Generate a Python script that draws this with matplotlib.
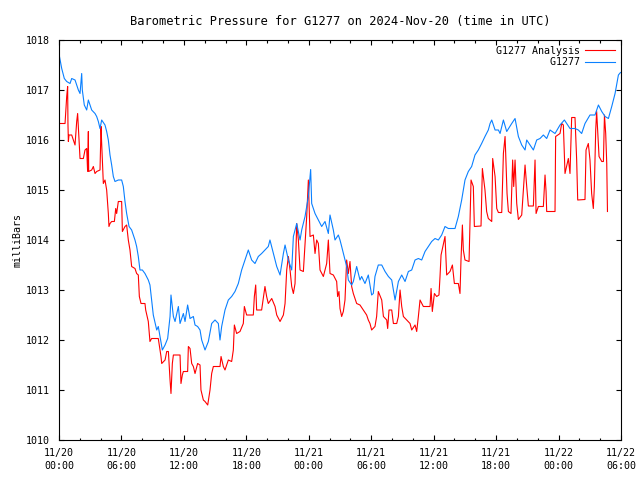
import matplotlib
matplotlib.use("Agg")
import matplotlib.pyplot as plt
from matplotlib.ticker import MultipleLocator

# hours since 2024-11-20 00:00 UTC
obs_hours = [0.00, 0.26, 0.51, 0.74, 1.06, 1.22, 1.54, 1.86, 2.02, 2.18, 2.24, 2.43, 2.66, 2.82,
             2.98, 3.14, 3.46, 3.62, 3.78, 3.94, 4.10, 4.42, 4.58, 4.74, 4.90, 5.06, 5.22, 5.38,
             5.70, 6.02, 6.18, 6.34, 6.50, 6.73, 6.98, 7.30, 7.46, 7.62, 7.78, 8.01, 8.26, 8.58,
             8.74, 8.90, 9.06, 9.39, 9.54, 9.71, 9.93, 10.19, 10.44, 10.67, 10.76, 10.99, 11.15,
             11.47, 11.63, 11.95, 12.11, 12.36, 12.59, 12.91, 13.07, 13.32, 13.55,
             13.71, 14.03, 14.35, 14.67, 14.99, 15.31, 15.47, 15.63, 15.95, 16.27, 16.59, 16.91,
             17.23, 17.55, 17.87, 18.19, 18.51, 18.83, 19.15, 19.47, 19.79, 20.11, 20.27, 20.60,
             20.92, 21.24, 21.56, 21.72, 22.04, 22.36, 22.52, 22.84, 23.16, 23.32, 23.64, 23.96,
             24.18, 24.28, 24.60, 24.92, 25.24, 25.56, 25.88, 26.04, 26.36, 26.52, 26.84,
             27.00, 27.16, 27.48, 27.64, 27.80, 28.12, 28.28, 28.60, 28.92, 29.08, 29.40, 29.72,
             30.04, 30.20, 30.36, 30.68, 31.01, 31.33, 31.65, 31.97, 32.29, 32.61, 32.93, 33.25,
             33.57, 33.89, 34.21, 34.53, 34.85, 35.17, 35.49, 35.81, 36.13, 36.45, 36.77, 37.09,
             37.41, 38.05, 38.37, 38.69, 39.01, 39.33, 39.65, 39.97,
             40.29, 40.61, 40.93, 41.25, 41.42, 41.58, 41.90, 42.22, 42.38, 42.70, 43.02, 43.50,
             43.82, 44.14, 44.46, 44.78, 44.94, 45.26, 45.58, 45.90, 46.22, 46.54, 46.86, 47.18,
             47.66, 48.14, 48.56, 48.78, 49.10, 49.58, 49.90, 50.22, 50.54, 51.02, 51.50, 51.83,
             52.15, 52.47, 52.79, 53.11, 53.43, 53.75, 53.95]
obs_mbar = [1017.72, 1017.43, 1017.23, 1017.17, 1017.13, 1017.23, 1017.20, 1017.00, 1016.93,
            1017.33, 1017.00, 1016.70, 1016.60, 1016.80, 1016.70, 1016.60, 1016.53, 1016.47,
            1016.37, 1016.23, 1016.40, 1016.30, 1016.17, 1016.00, 1015.70, 1015.50, 1015.27,
            1015.17, 1015.20, 1015.20, 1015.07, 1014.77, 1014.53, 1014.27, 1014.20, 1014.00,
            1013.87, 1013.67, 1013.40, 1013.40, 1013.33, 1013.20, 1013.10, 1012.80, 1012.50,
            1012.20, 1012.27, 1012.07, 1011.80, 1011.90, 1012.03, 1012.47, 1012.90, 1012.47,
            1012.37, 1012.67, 1012.33, 1012.53, 1012.37, 1012.70, 1012.43, 1012.47, 1012.30,
            1012.27, 1012.20,
            1012.00, 1011.80, 1011.97, 1012.33, 1012.40, 1012.33, 1012.00, 1012.27, 1012.60,
            1012.80, 1012.87, 1012.97, 1013.13, 1013.40, 1013.60, 1013.80, 1013.60, 1013.53,
            1013.67, 1013.73, 1013.80, 1013.87, 1014.00, 1013.73, 1013.47, 1013.30, 1013.73,
            1013.90, 1013.60, 1013.40, 1014.07, 1014.33, 1014.00, 1014.20, 1014.47, 1014.87,
            1015.41, 1014.73, 1014.53, 1014.40, 1014.27, 1014.37, 1014.13, 1014.50, 1014.20,
            1014.00, 1014.10,
            1014.00, 1013.87, 1013.60, 1013.47, 1013.20, 1013.10, 1013.17, 1013.47, 1013.20,
            1013.27, 1013.13, 1013.30, 1012.90, 1012.93, 1013.27, 1013.50, 1013.50, 1013.37,
            1013.27, 1013.20, 1012.80, 1013.17, 1013.30, 1013.17, 1013.37, 1013.40, 1013.60,
            1013.63, 1013.60, 1013.77, 1013.87, 1013.97, 1014.03, 1014.00, 1014.10, 1014.27,
            1014.23, 1014.23, 1014.47, 1014.80, 1015.20, 1015.37, 1015.47, 1015.70,
            1015.80, 1015.93, 1016.07, 1016.20, 1016.33, 1016.40, 1016.20, 1016.20, 1016.13,
            1016.40, 1016.17, 1016.33, 1016.43, 1016.07, 1015.90, 1015.80, 1016.00, 1015.90,
            1015.80, 1016.00, 1016.03, 1016.10, 1016.03, 1016.20, 1016.13, 1016.30, 1016.40,
            1016.33, 1016.23, 1016.23, 1016.20, 1016.13, 1016.33, 1016.50, 1016.50, 1016.70,
            1016.57, 1016.47, 1016.43, 1016.67, 1016.93, 1017.30, 1017.35]

ana_hours = [0.00, 0.58, 0.74, 0.83, 0.86, 0.90, 0.96, 1.22, 1.38, 1.54, 1.70, 1.79, 1.92, 2.02,
             2.34, 2.50, 2.66, 2.75, 2.82, 2.85, 3.14, 3.30, 3.46, 3.62, 3.94, 4.04, 4.10, 4.26,
             4.42, 4.58, 4.74, 4.80, 4.90, 5.06, 5.32, 5.45, 5.54, 5.70, 6.02, 6.09, 6.34, 6.50,
             6.66, 6.82, 6.98, 7.30, 7.46, 7.62, 7.72, 7.88, 8.26, 8.33, 8.58, 8.74, 8.90, 9.54,
             9.80, 9.87, 10.19, 10.35, 10.51, 10.67, 10.76, 10.89, 10.99, 11.63, 11.72, 11.85,
             11.95, 12.36, 12.43, 12.59, 12.75, 12.91, 13.07, 13.32, 13.55,
             13.64, 13.87, 14.03, 14.29, 14.51, 14.67, 14.83, 15.47, 15.57, 15.79, 15.95, 16.27,
             16.59, 16.75, 16.85, 17.07, 17.39, 17.71, 17.81, 18.03, 18.67, 18.77, 18.90, 18.99,
             19.47, 19.79, 19.95, 20.11, 20.44, 20.76, 20.92, 21.24, 21.56, 21.72, 21.88, 22.04,
             22.20, 22.36, 22.52, 22.68, 22.84, 23.00, 23.16, 23.48, 23.64, 23.80, 23.96, 24.12,
             24.44, 24.60, 24.76, 24.92, 25.08, 25.40, 25.72, 25.88, 26.04, 26.36, 26.68, 26.77,
             26.90, 27.00,
             27.16, 27.32, 27.48, 27.64, 27.80, 27.96, 28.12, 28.28, 28.60, 28.92, 29.56, 29.72,
             29.88, 30.04, 30.36, 30.52, 30.68, 31.01, 31.17, 31.49, 31.58, 31.71, 31.97, 32.13,
             32.45, 32.61, 32.77, 32.93, 33.09, 33.41, 33.73, 33.89, 34.21, 34.37, 34.53, 34.69,
             35.01, 35.65, 35.75, 35.87, 36.07, 36.29, 36.51, 36.61, 36.71, 37.09, 37.25, 37.57,
             37.80, 37.99, 38.37, 38.53, 38.63, 38.76, 38.85, 39.01, 39.40, 39.49, 39.59, 39.81,
             39.91,
             40.55, 40.68, 40.93, 41.09, 41.25, 41.58, 41.67, 41.90, 42.06, 42.22, 42.54, 42.70,
             42.86, 42.92, 43.05, 43.18, 43.43, 43.59, 43.69, 43.82, 43.98, 44.14, 44.46, 44.62,
             44.78, 44.94, 45.10, 45.58, 45.74, 45.84, 46.06, 46.54, 46.70, 46.80, 46.86, 47.66,
             47.72, 48.14, 48.30, 48.46, 48.62, 48.94, 49.10, 49.26, 49.58, 49.74, 49.84, 50.54,
             50.64, 50.86, 51.02, 51.18, 51.34, 51.44, 51.57, 51.66, 51.89, 52.15, 52.31, 52.41,
             52.53, 52.63, 52.70]
ana_mbar = [1016.33, 1016.33, 1016.87, 1017.07, 1016.33, 1015.97, 1016.10, 1016.10, 1016.00,
            1015.90, 1016.37, 1016.53, 1016.00, 1015.63, 1015.63, 1015.80, 1015.83, 1015.37,
            1016.17, 1015.37, 1015.40, 1015.47, 1015.33, 1015.37, 1015.40, 1016.27, 1015.93,
            1015.13, 1015.20, 1015.00, 1014.53, 1014.27, 1014.33, 1014.37, 1014.37, 1014.63,
            1014.53, 1014.77, 1014.77, 1014.17, 1014.27, 1014.30, 1014.00, 1013.80, 1013.47,
            1013.43, 1013.33, 1013.30, 1012.87, 1012.73, 1012.73, 1012.60, 1012.37, 1011.97,
            1012.03, 1012.03, 1011.67, 1011.53, 1011.60, 1011.77, 1011.77, 1011.20, 1010.93,
            1011.53, 1011.70, 1011.70, 1011.13, 1011.30, 1011.37, 1011.37, 1011.87, 1011.83,
            1011.53, 1011.47, 1011.33, 1011.53, 1011.50,
            1011.00, 1010.80, 1010.77, 1010.70, 1011.00, 1011.33, 1011.47, 1011.47, 1011.67,
            1011.47, 1011.40, 1011.60, 1011.57, 1011.80, 1012.30, 1012.13, 1012.17, 1012.33,
            1012.67, 1012.50, 1012.50, 1012.87, 1013.10, 1012.60, 1012.60, 1013.07, 1012.87,
            1012.73, 1012.83, 1012.67, 1012.50, 1012.37, 1012.50, 1012.73, 1013.40, 1013.67,
            1013.40, 1013.07, 1012.93, 1013.13, 1014.33, 1014.00, 1013.40, 1013.37, 1013.93,
            1014.47, 1015.20, 1014.07, 1014.10, 1013.73, 1014.00, 1013.93, 1013.40, 1013.27,
            1013.53, 1014.00, 1013.33, 1013.30, 1013.17, 1012.87, 1012.97, 1012.63,
            1012.47, 1012.57, 1012.80, 1013.60, 1013.33, 1013.57, 1013.07, 1012.93, 1012.73,
            1012.70, 1012.50, 1012.40, 1012.33, 1012.20, 1012.27, 1012.47, 1012.97, 1012.80,
            1012.47, 1012.40, 1012.23, 1012.60, 1012.60, 1012.33, 1012.33, 1012.47, 1013.00,
            1012.67, 1012.47, 1012.40, 1012.33, 1012.20, 1012.30, 1012.17, 1012.47, 1012.80,
            1012.67, 1012.67, 1013.03, 1012.57, 1012.93, 1012.87, 1012.90, 1013.27, 1013.70,
            1014.07, 1013.30, 1013.37, 1013.50, 1013.13, 1013.13, 1012.93, 1013.63, 1014.30,
            1013.80, 1013.60, 1013.57, 1014.33, 1015.20, 1015.07, 1014.27,
            1014.28, 1015.43, 1015.00, 1014.57, 1014.43, 1014.37, 1015.63, 1015.27, 1014.63,
            1014.55, 1014.55, 1015.73, 1016.07, 1015.73, 1014.93, 1014.57, 1014.53, 1015.60,
            1015.07, 1015.60, 1014.73, 1014.41, 1014.50, 1015.00, 1015.50, 1015.07, 1014.68,
            1014.68, 1015.60, 1014.53, 1014.67, 1014.67, 1015.30, 1014.97, 1014.57, 1014.57,
            1016.07, 1016.13, 1016.33, 1016.30, 1015.33, 1015.63, 1015.33, 1016.45, 1016.45,
            1015.60, 1014.80, 1014.81, 1015.80, 1015.93, 1015.60, 1014.93, 1014.63, 1015.07,
            1016.20, 1016.57, 1015.67, 1015.57, 1015.57, 1016.50, 1016.13, 1015.53, 1014.57]

tick_hours = [0, 6, 12, 18, 24, 30, 36, 42, 48, 54]
tick_labels = ["11/20\n00:00", "11/20\n06:00", "11/20\n12:00", "11/20\n18:00",
               "11/21\n00:00", "11/21\n06:00", "11/21\n12:00", "11/21\n18:00",
               "11/22\n00:00", "11/22\n06:00"]
y_ticks = [1010, 1011, 1012, 1013, 1014, 1015, 1016, 1017, 1018]

plt.rcParams['font.family'] = ['DejaVu Sans Mono']
plt.rcParams['font.size'] = 7.2

fig = plt.figure(figsize=(6.4, 4.8), dpi=100)
ax = fig.add_axes([59 / 640, 40 / 480, 562 / 640, 400 / 480])

ax.plot(ana_hours, ana_mbar, color='#ff0000', lw=0.8, label='G1277 Analysis')
ax.plot(obs_hours, obs_mbar, color='#0a80ff', lw=0.8, label='         G1277')

ax.set_xlim(0, 54)
ax.set_ylim(1010, 1018)
ax.set_xticks(tick_hours)
ax.set_xticklabels(tick_labels, linespacing=1.3)
ax.xaxis.set_minor_locator(MultipleLocator(2))
ax.set_yticks(y_ticks)

ax.tick_params(which='both', direction='in', top=True, right=True, width=0.8, colors='black')
ax.tick_params(which='major', length=3.6)
ax.tick_params(which='minor', length=1.8)
ax.tick_params(axis='y', pad=6.5)
ax.tick_params(axis='x', pad=6)
for s in ax.spines.values():
    s.set_linewidth(0.8)

ax.set_ylabel('milliBars', labelpad=2.5)
ax.set_title('Barometric Pressure for G1277 on 2024-Nov-20 (time in UTC)', pad=11)

ax.legend(loc='upper right', markerfirst=False, frameon=False, handlelength=3.0,
          borderaxespad=0.2, labelspacing=0.15, handletextpad=0.5)

fig.savefig('out.png', dpi=100)
